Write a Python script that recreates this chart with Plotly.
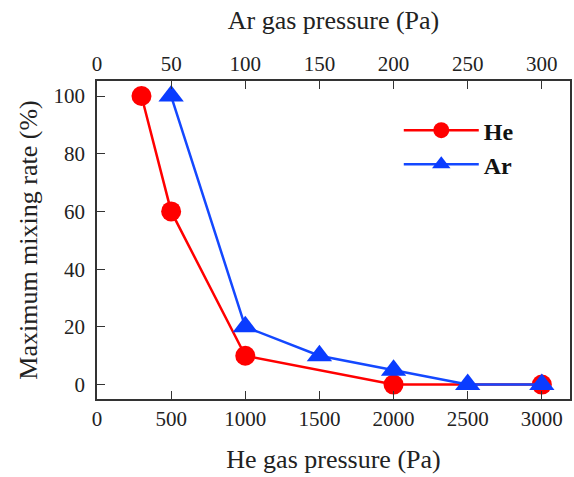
import plotly.graph_objects as go

he_pressure = [300, 500, 1000, 2000, 3000]
he_rate = [100, 60, 10, 0, 0]
ar_pressure = [50, 100, 150, 200, 250, 300]
ar_rate = [100, 20, 10, 5, 0, 0]

x_ticks = [0, 500, 1000, 1500, 2000, 2500, 3000]
x2_ticks = [0, 50, 100, 150, 200, 250, 300]
y_ticks = [0, 20, 40, 60, 80, 100]

font = "Liberation Serif, Times New Roman, serif"
axcol = "#333333"

fig = go.Figure()
fig.add_trace(go.Scatter(x=he_pressure, y=he_rate, name="He", mode="lines+markers",
                         line=dict(color="#ff0000", width=2.5),
                         marker=dict(symbol="circle", size=20, color="#ff0000"),
                         xaxis="x", yaxis="y"))
fig.add_trace(go.Scatter(x=ar_pressure, y=ar_rate, name="Ar", mode="lines+markers",
                         line=dict(color="#1448ff", width=2.5),
                         marker=dict(symbol="triangle-up", size=22, color="#0a3cff"),
                         xaxis="x2", yaxis="y"))

fig.update_layout(
    width=574, height=477,
    margin=dict(l=97, r=2, t=81, b=78),
    paper_bgcolor="white", plot_bgcolor="white",
    font=dict(family=font, size=21, color="#222222"),
    xaxis=dict(range=[0, 3190], tickvals=x_ticks, ticks="inside", ticklen=8,
               tickcolor=axcol, showline=True, linecolor=axcol, linewidth=1.5,
               showgrid=False, zeroline=False, ticklabelstandoff=0,
               title=dict(text="He gas pressure (Pa)", font=dict(size=26), standoff=20)),
    xaxis2=dict(range=[0, 319], tickvals=x2_ticks, ticks="inside", ticklen=8,
                tickcolor=axcol, overlaying="x", side="top", anchor="y",
                showline=True, linecolor=axcol, linewidth=1.5,
                showgrid=False, zeroline=False,
                title=dict(text="Ar gas pressure (Pa)", font=dict(size=26), standoff=15)),
    yaxis=dict(range=[-5, 105.2], tickvals=y_ticks, ticks="inside", ticklen=8,
               tickcolor=axcol, showline=True, linecolor=axcol, linewidth=1.5,
               mirror=True, showgrid=False, zeroline=False, ticklabelstandoff=6,
               title=dict(text="Maximum mixing rate (%)", font=dict(size=26), standoff=8)),
    legend=dict(x=0.638, y=0.915, xanchor="left", yanchor="top",
                bgcolor="rgba(0,0,0,0)", font=dict(size=24, family=font, color="#111111"),
                itemwidth=75, tracegroupgap=2),
    showlegend=True,
)
fig.for_each_trace(lambda t: t.update(name="<b>" + t.name + "</b>"))

fig.write_html("out.html")
